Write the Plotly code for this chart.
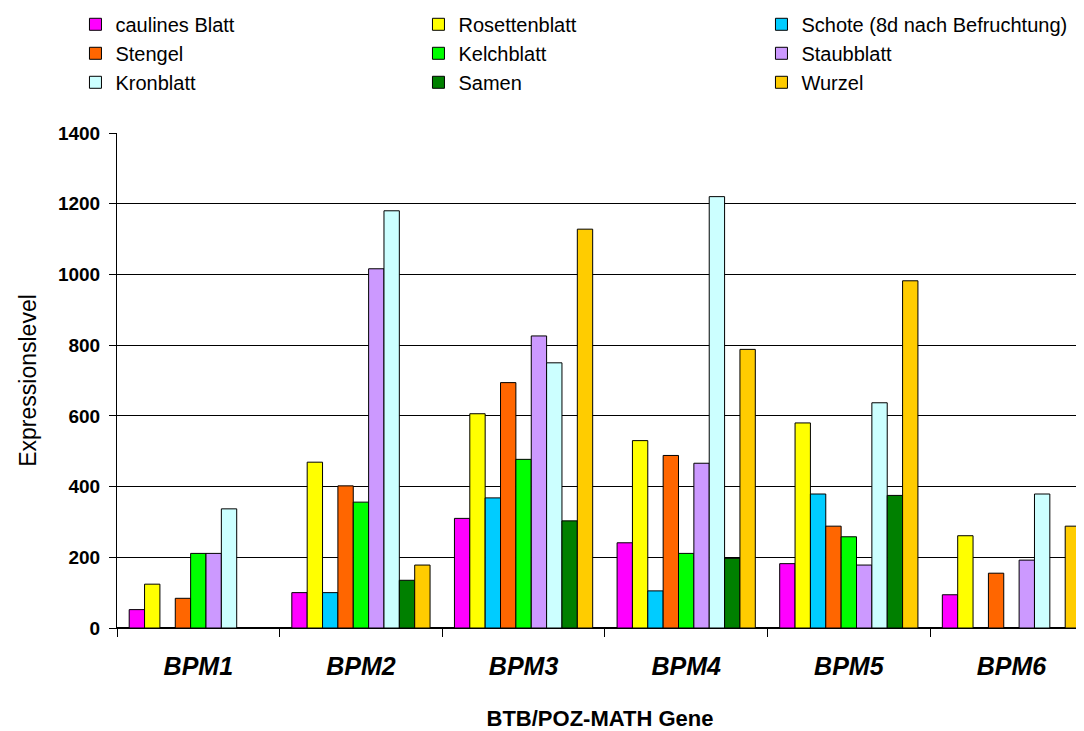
import plotly.graph_objects as go

genes = ["BPM1", "BPM2", "BPM3", "BPM4", "BPM5", "BPM6"]

caulines_blatt = [52, 100, 310, 241, 182, 94]
rosettenblatt = [124, 469, 606, 530, 580, 261]
schote = [0, 100, 368, 105, 379, 0]
stengel = [84, 402, 694, 488, 288, 155]
kelchblatt = [211, 356, 477, 211, 258, 0]
staubblatt = [211, 1016, 826, 466, 178, 192]
kronblatt = [337, 1180, 750, 1220, 637, 379]
samen = [0, 135, 303, 197, 375, 0]
wurzel = [0, 178, 1128, 788, 982, 288]

series = [
    ("caulines Blatt", caulines_blatt, "#FF00FF"),
    ("Rosettenblatt", rosettenblatt, "#FFFF00"),
    ("Schote (8d nach Befruchtung)", schote, "#00CCFF"),
    ("Stengel", stengel, "#FF6600"),
    ("Kelchblatt", kelchblatt, "#00FF00"),
    ("Staubblatt", staubblatt, "#CC99FF"),
    ("Kronblatt", kronblatt, "#CCFFFF"),
    ("Samen", samen, "#008000"),
    ("Wurzel", wurzel, "#FFCC00"),
]

font = "Liberation Sans, Arial, sans-serif"

fig = go.Figure()
for name, vals, color in series:
    fig.add_trace(go.Bar(
        x=genes,
        y=vals,
        name=name,
        marker=dict(color=color, line=dict(color="#000000", width=1)),
    ))

# page has an 8px body margin, so the figure is 8px smaller each way
fig.update_layout(
    width=1076,
    height=723,
    barmode="group",
    bargap=0.15,
    bargroupgap=0,
    plot_bgcolor="white",
    paper_bgcolor="white",
    font=dict(family=font, color="black"),
    margin=dict(l=109, r=1, t=125, b=103, autoexpand=False),
    legend=dict(
        orientation="h",
        x=-0.043,
        xanchor="left",
        y=1.259,
        yanchor="top",
        entrywidth=298,
        entrywidthmode="pixels",
        font=dict(size=20, family=font),
        traceorder="normal",
    ),
    xaxis=dict(
        type="category",
        range=[-0.5, 5.44],
        tickson="boundaries",
        ticks="outside",
        ticklen=8,
        tickcolor="black",
        showline=True,
        linecolor="black",
        linewidth=1,
        showgrid=False,
        tickfont=dict(size=25, weight="bold", style="italic", family=font),
        ticklabelstandoff=16,
        title=dict(
            text="BTB/POZ-MATH Gene",
            font=dict(size=22, weight="bold", family=font),
            standoff=34,
        ),
    ),
    yaxis=dict(
        range=[0, 1400],
        dtick=200,
        ticks="outside",
        ticklen=7,
        tickcolor="black",
        showline=True,
        linecolor="black",
        linewidth=1,
        showgrid=True,
        gridcolor="black",
        gridwidth=1,
        zeroline=True,
        zerolinecolor="black",
        tickfont=dict(size=19, weight="bold", family=font),
        ticklabelstandoff=5,
        title=dict(
            text="Expressionslevel",
            font=dict(size=23, family=font),
            standoff=14,
        ),
    ),
)

fig.write_html("out.html")
